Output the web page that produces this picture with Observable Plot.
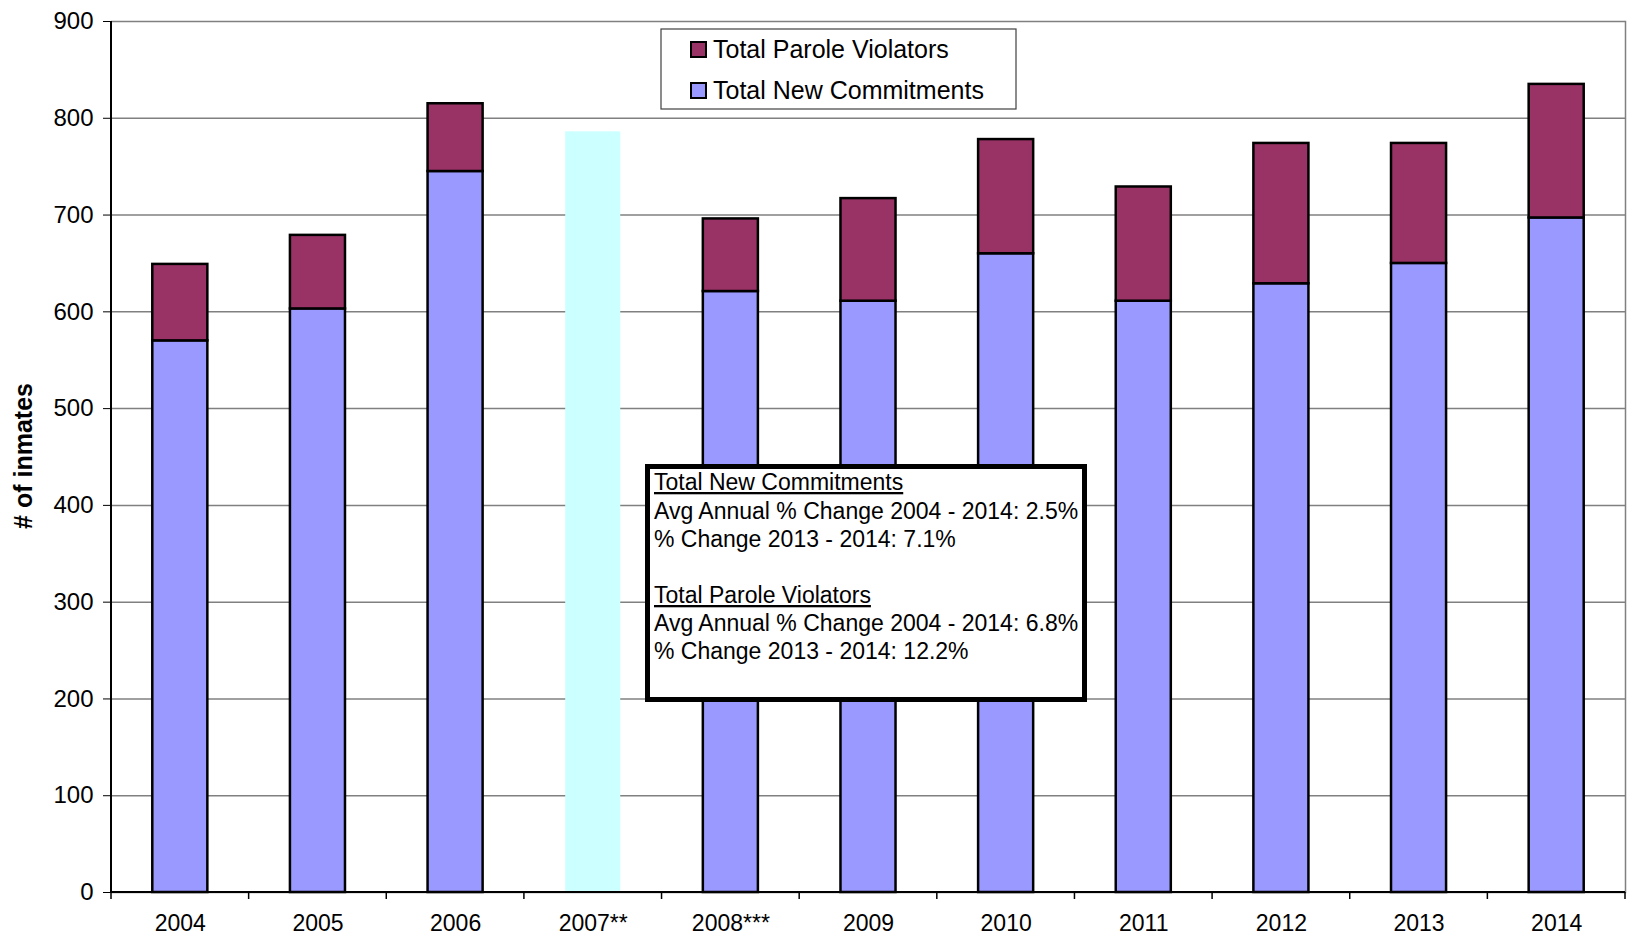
<!DOCTYPE html>
<html>
<head>
<meta charset="utf-8">
<script src="https://cdn.jsdelivr.net/npm/d3@7"></script>
<script src="https://cdn.jsdelivr.net/npm/@observablehq/plot@0.6"></script>
<style>
  html, body { margin: 0; padding: 0; background: #fff; }
  #wrap { position: relative; width: 1629px; height: 940px; overflow: hidden;
          font-family: "Liberation Sans", Arial, sans-serif; }
  #wrap > svg { position: absolute; left: 0; top: 0; }
  #overlay { pointer-events: none; }
</style>
</head>
<body>
<div id="wrap"></div>
<script>
// ---------------- data ----------------
const years = ["2004", "2005", "2006", "2007**", "2008***", "2009", "2010", "2011", "2012", "2013", "2014"];
const newCommitments = [570, 603, 745, null, 621, 611, 660, 611, 629, 650, 697];
const paroleViolators = [79, 76, 70, null, 75, 106, 118, 118, 145, 124, 138];
const unsplitTotal = [null, null, null, 786, null, null, null, null, null, null, null];
const yTicks = [0, 100, 200, 300, 400, 500, 600, 700, 800, 900];
const seriesNames = ["Total Parole Violators", "Total New Commitments"];
const seriesColors = ["#993366", "#9999FF"];
const unsplitColor = "#CCFFFF";
const yLabel = "# of inmates";
const noteNewTitle = "Total New Commitments";
const noteNewLines = ["Avg Annual % Change 2004 - 2014: 2.5%", "% Change 2013 - 2014: 7.1%"];
const notePvTitle = "Total Parole Violators";
const notePvLines = ["Avg Annual % Change 2004 - 2014: 6.8%", "% Change 2013 - 2014: 12.2%"];

// ---------------- layout ----------------
const W = 1629, H = 940;
const mL = 111, mR = 4, mT = 21, mB = 48;
const font = '"Liberation Sans", Arial, sans-serif';

const rows = years.map((year, i) => ({
  year, nc: newCommitments[i], pv: paroleViolators[i], tot: unsplitTotal[i]
}));
const split = rows.filter(d => d.nc != null);
const unsplit = rows.filter(d => d.tot != null);

// axis lines and x tick marks at band boundaries
function axisLines() {
  const g = d3.create("svg:g");
  const n = years.length;
  const step = (W - mL - mR) / n;
  const y0 = H - mB;
  g.append("line").attr("x1", mL).attr("x2", mL).attr("y1", mT).attr("y2", y0 + 1)
    .attr("stroke", "black").attr("stroke-width", 2);
  g.append("line").attr("x1", mL).attr("x2", W - mR).attr("y1", y0).attr("y2", y0)
    .attr("stroke", "black").attr("stroke-width", 2);
  for (let i = 0; i <= n; i++) {
    const x = mL + i * step;
    g.append("line").attr("x1", x).attr("x2", x).attr("y1", y0).attr("y2", y0 + 7)
      .attr("stroke", "black").attr("stroke-width", 1.5);
  }
  return g.node();
}

const chart = Plot.plot({
  width: W, height: H,
  marginLeft: mL, marginRight: mR, marginTop: mT, marginBottom: mB,
  style: { fontFamily: font, background: "white", color: "black", fontSize: "24px" },
  x: { domain: years, paddingInner: 0.6, paddingOuter: 0.3, round: false, label: null },
  y: { domain: [0, 900], label: null },
  marks: [
    Plot.ruleY(yTicks, { stroke: "#808080", strokeWidth: 1.5 }),
    Plot.frame({ anchor: "right", stroke: "#808080", strokeWidth: 1.5 }),
    Plot.barY(unsplit, { x: "year", y1: 0, y2: "tot", fill: unsplitColor }),
    Plot.barY(split, { x: "year", y1: 0, y2: "nc", fill: seriesColors[1], stroke: "black", strokeWidth: 2.5 }),
    Plot.barY(split, { x: "year", y1: "nc", y2: d => d.nc + d.pv, fill: seriesColors[0], stroke: "black", strokeWidth: 2.5 }),
    Plot.axisY({ ticks: yTicks, tickSize: 8, tickPadding: 10, fontSize: 24, stroke: "black", fill: "black", label: null }),
    Plot.axisX({ tickSize: 0, tickPadding: 22, fontSize: 23, fill: "black", label: null }),
    axisLines
  ]
});
document.getElementById("wrap").appendChild(chart);

// ---------------- overlay: y label, legend, note box ----------------
const ov = d3.select("#wrap").append("svg").attr("id", "overlay")
  .attr("width", W).attr("height", H)
  .style("font-family", font);

ov.append("text")
  .attr("transform", "translate(32,456) rotate(-90)")
  .attr("text-anchor", "middle")
  .attr("font-size", 25).attr("font-weight", "bold").attr("fill", "black")
  .text(yLabel);

// legend
const lg = ov.append("g");
lg.append("rect").attr("x", 661).attr("y", 29).attr("width", 355).attr("height", 80)
  .attr("fill", "white").attr("stroke", "#404040").attr("stroke-width", 1.2);
seriesNames.forEach((name, i) => {
  const yy = 42 + i * 41;
  lg.append("rect").attr("x", 691).attr("y", yy).attr("width", 15).attr("height", 15)
    .attr("fill", seriesColors[i]).attr("stroke", "black").attr("stroke-width", 2);
  lg.append("text").attr("x", 713).attr("y", yy + 16).attr("font-size", 25).attr("fill", "black")
    .text(name);
});

// note box
const nb = ov.append("g");
nb.append("rect").attr("x", 647.5).attr("y", 466.5).attr("width", 437).attr("height", 233)
  .attr("fill", "white").attr("stroke", "black").attr("stroke-width", 5);
const lines = [
  { t: noteNewTitle, u: true, y: 490 },
  { t: noteNewLines[0], y: 519 },
  { t: noteNewLines[1], y: 547 },
  { t: notePvTitle, u: true, y: 603 },
  { t: notePvLines[0], y: 631 },
  { t: notePvLines[1], y: 659 }
];
lines.forEach(l => {
  nb.append("text").attr("x", 654).attr("y", l.y).attr("font-size", 23).attr("fill", "black")
    .attr("text-decoration", l.u ? "underline" : null)
    .text(l.t);
});
</script>
</body>
</html>
